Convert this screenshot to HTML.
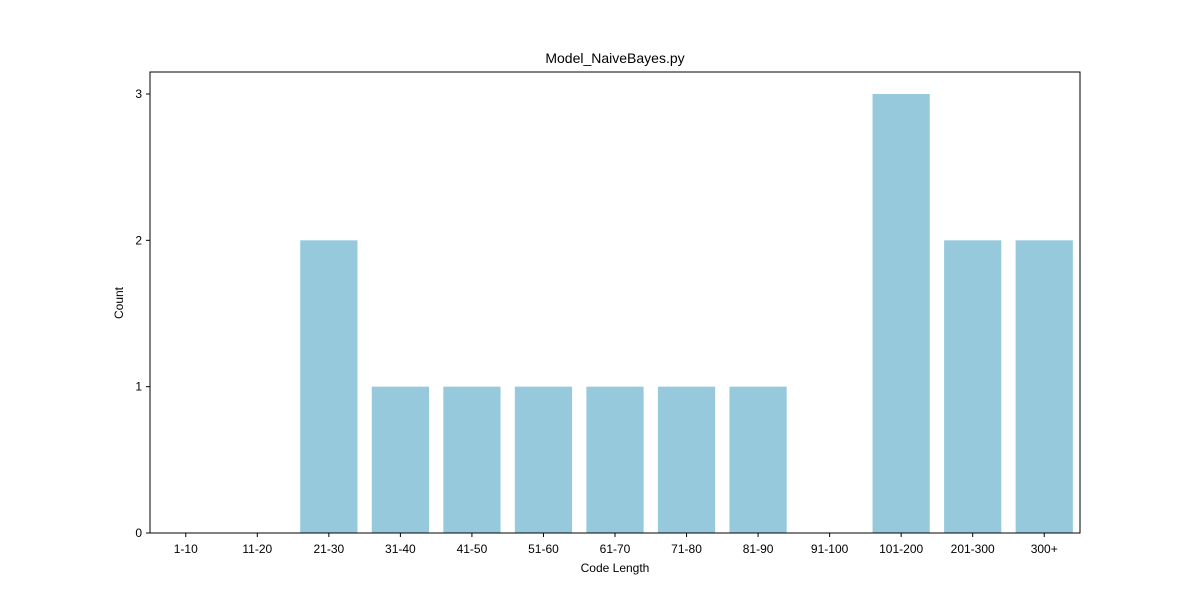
<!DOCTYPE html>
<html><head><meta charset="utf-8"><style>
body{margin:0;background:#fff;}
svg text{font-family:"Liberation Sans",sans-serif;fill:#000;}
</style></head><body>
<svg id="chart" width="1200" height="600"></svg>
<script>
const categories=["1-10","11-20","21-30","31-40","41-50","51-60","61-70","71-80","81-90","91-100","101-200","201-300","300+"];
const counts=[0,0,2,1,1,1,1,1,1,0,3,2,2];
const yTicks=[0,1,2,3];
const svg=document.getElementById('chart');
const NS='http://www.w3.org/2000/svg';
const L=150,R=1080,T=72,B=533;
const yMax=3*(B-T)/(B-94);
const band=(R-L)/categories.length;
const x=i=>L+band*i+band*0.1;
const y=v=>B-v/yMax*(B-T);
function mk(tag,attrs,parent){const e=document.createElementNS(NS,tag);for(const k in attrs)e.setAttribute(k,attrs[k]);(parent||svg).appendChild(e);return e;}
counts.forEach((v,i)=>{
 const r=mk('rect',{x:x(i),y:y(v),width:band*0.8,height:B-y(v),fill:'#96c9dc'});
 
 
});
const frame=mk('rect',{x:L,y:T,width:R-L,height:B-T,fill:'none',stroke:'#000','stroke-width':1});


categories.forEach((c,i)=>{
 const cx=L+band*(i+0.5);
 mk('line',{x1:cx,x2:cx,y1:B,y2:B+4,stroke:'#000'});
 const t=mk('text',{x:cx,y:B+20,'text-anchor':'middle','font-size':12});
 t.textContent=c;
 
 
});
yTicks.forEach(v=>{
 mk('line',{x1:L-4,x2:L,y1:y(v),y2:y(v),stroke:'#000'});
 const t=mk('text',{x:L-8,y:y(v)+4,'text-anchor':'end','font-size':12});
 t.textContent=v;
 
 
});
const title=mk('text',{x:615,y:63,'text-anchor':'middle','font-size':14});
title.textContent='Model_NaiveBayes.py';


const xl=mk('text',{x:615,y:572,'text-anchor':'middle','font-size':12});
xl.textContent='Code Length';


const yl=mk('text',{x:123,y:303,'text-anchor':'middle','font-size':12,transform:'rotate(-90 123 303)'});
yl.textContent='Count';


</script>
</body></html>
